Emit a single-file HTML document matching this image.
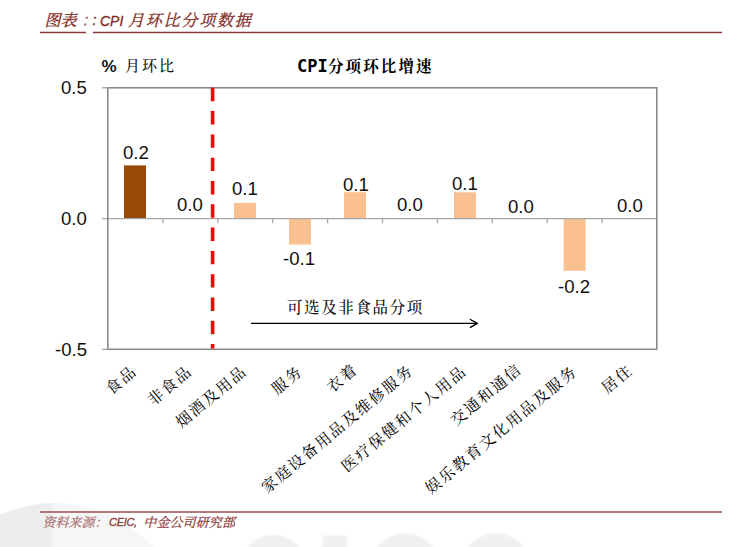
<!DOCTYPE html>
<html lang="zh-CN">
<head>
<meta charset="utf-8">
<title>CPI 月环比分项数据</title>
<style>
html,body{margin:0;padding:0;background:#fff;}
#c{position:relative;width:750px;height:547px;overflow:hidden;background:#fff;}
.t{position:absolute;white-space:nowrap;line-height:1;}
.num{font-family:"Liberation Sans","Noto Sans CJK SC",sans-serif;font-size:18.6px;color:#111;}
.cat{font-family:"Liberation Serif","Noto Serif CJK SC",serif;font-size:15.5px;font-weight:400;color:#000;letter-spacing:1.9px;transform-origin:100% 0;transform:rotate(-39.5deg);}
.hd{font-style:italic;color:#842a24;-webkit-text-stroke:0.3px #842a24;}
svg{position:absolute;left:0;top:0;}
</style>
</head>
<body>
<div id="c">
<svg width="750" height="547" viewBox="0 0 750 547">
  <!-- watermark -->
  <defs>
    <clipPath id="cl"><rect x="0" y="0" width="52.7" height="547"/></clipPath>
    <clipPath id="cr"><rect x="52.7" y="0" width="200" height="547"/></clipPath>
    <filter id="bl" x="-10%" y="-10%" width="120%" height="120%"><feGaussianBlur stdDeviation="1.2"/></filter>
  </defs>
  <circle cx="55" cy="635" r="132" fill="#ededed" clip-path="url(#cl)"/>
  <circle cx="55" cy="635" r="132" fill="#f6f6f6" clip-path="url(#cr)"/>
  <g fill="#f0f0f0" filter="url(#bl)">
    <ellipse cx="273.5" cy="570" rx="33.5" ry="35.3"/>
    <rect x="322.7" y="535.5" width="24" height="20"/>
    <ellipse cx="405.3" cy="568.6" rx="34.7" ry="35.3"/>
    <ellipse cx="496" cy="568.6" rx="34.8" ry="35.3"/>
  </g>
  <!-- header lines -->
  <line x1="40" y1="32.5" x2="86" y2="32.5" stroke="#8a3a3a" stroke-width="1.3"/>
  <line x1="93" y1="32.5" x2="722" y2="32.5" stroke="#8a3a3a" stroke-width="1.3"/>
  <!-- footer line -->
  <line x1="40" y1="512" x2="722" y2="512" stroke="#b07878" stroke-width="1.9"/>

  <!-- bars -->
  <rect x="124" y="165.4" width="22" height="53.2" fill="#984807"/>
  <rect x="234" y="202.9" width="22" height="15.7" fill="#fac090"/>
  <rect x="289" y="218.6" width="22" height="26" fill="#fac090"/>
  <rect x="344" y="192.2" width="22" height="26.4" fill="#fac090"/>
  <rect x="454" y="192.3" width="22" height="26.3" fill="#fac090"/>
  <rect x="563.6" y="218.6" width="22" height="52.2" fill="#fac090"/>

  <!-- zero line + category ticks -->
  <g stroke="#a6a6a6" stroke-width="1.3">
    <line x1="102" y1="218.6" x2="657" y2="218.6"/>
    <line x1="162.9" y1="218.6" x2="162.9" y2="223.3"/>
    <line x1="217.8" y1="218.6" x2="217.8" y2="223.3"/>
    <line x1="272.7" y1="218.6" x2="272.7" y2="223.3"/>
    <line x1="327.6" y1="218.6" x2="327.6" y2="223.3"/>
    <line x1="382.5" y1="218.6" x2="382.5" y2="223.3"/>
    <line x1="437.4" y1="218.6" x2="437.4" y2="223.3"/>
    <line x1="492.3" y1="218.6" x2="492.3" y2="223.3"/>
    <line x1="547.2" y1="218.6" x2="547.2" y2="223.3"/>
    <line x1="602.1" y1="218.6" x2="602.1" y2="223.3"/>
  </g>
  <!-- plot border -->
  <rect x="107.8" y="87.8" width="549" height="261.5" fill="none" stroke="#8a8a8a" stroke-width="1.6"/>
  <g stroke="#a0a0a0" stroke-width="1.3">
    <line x1="102" y1="87.8" x2="108" y2="87.8"/>
    <line x1="102" y1="349.3" x2="108" y2="349.3"/>
  </g>
  <!-- red dashed divider -->
  <line x1="212.6" y1="87.8" x2="212.6" y2="348.6" stroke="#ff0000" stroke-width="3.6" stroke-dasharray="13.4 9.9"/>

  <!-- arrow -->
  <line x1="251" y1="323.4" x2="477" y2="323.4" stroke="#000" stroke-width="1.4"/>
  <polyline points="470.4,319.5 477.4,323.4 470.4,327.3" fill="none" stroke="#000" stroke-width="1.4" stroke-linejoin="round" stroke-linecap="round"/>
</svg>

<!-- header -->
<div class="t hd" style="left:44.5px;top:12.8px;font-size:16px;font-family:'Liberation Serif','Noto Serif CJK SC',serif;">图表</div>
<div class="t hd" style="left:81px;top:12.5px;font-size:16.5px;font-family:'Liberation Serif','Noto Serif CJK SC',serif;opacity:.75;">：</div>
<div class="t hd" style="left:92.5px;top:13px;font-size:14px;font-family:'Liberation Sans',sans-serif;">:</div>
<div class="t hd" style="left:100px;top:14px;font-size:14px;font-family:'Liberation Sans',sans-serif;">CPI</div>
<div class="t hd" style="left:128px;top:12.5px;font-size:16px;font-family:'Liberation Serif','Noto Serif CJK SC',serif;letter-spacing:1.8px;">月环比分项数据</div>

<!-- axis title and chart title -->
<div class="t" style="left:101.5px;top:58px;font-size:17px;color:#111;font-family:'Liberation Sans',sans-serif;font-weight:bold;">%</div>
<div class="t" style="left:125px;top:58.5px;font-size:15px;color:#111;font-family:'Liberation Serif','Noto Serif CJK SC',serif;font-weight:500;letter-spacing:2px;">月环比</div>
<div class="t" style="left:297px;top:58px;font-size:17px;color:#000;font-weight:bold;font-family:'DejaVu Sans Mono',monospace;">CPI</div>
<div class="t" style="left:328px;top:58.5px;font-size:15.5px;color:#000;font-weight:bold;font-family:'Liberation Serif','Noto Serif CJK SC',serif;letter-spacing:2.1px;">分项环比增速</div>

<!-- y axis labels -->
<div class="t num" style="left:61px;top:79px;">0.5</div>
<div class="t num" style="left:61px;top:210px;">0.0</div>
<div class="t num" style="left:55px;top:341px;">-0.5</div>

<!-- data labels -->
<div class="t num" style="left:123px;top:143.5px;">0.2</div>
<div class="t num" style="left:177px;top:196px;">0.0</div>
<div class="t num" style="left:232px;top:180px;">0.1</div>
<div class="t num" style="left:283px;top:250px;">-0.1</div>
<div class="t num" style="left:343px;top:176px;">0.1</div>
<div class="t num" style="left:397px;top:196px;">0.0</div>
<div class="t num" style="left:452px;top:175px;">0.1</div>
<div class="t num" style="left:508px;top:198px;">0.0</div>
<div class="t num" style="left:558px;top:277.5px;">-0.2</div>
<div class="t num" style="left:617px;top:197px;">0.0</div>

<!-- arrow label -->
<div class="t" style="left:287px;top:299.5px;font-family:'Liberation Serif','Noto Serif CJK SC',serif;font-size:15.5px;font-weight:500;letter-spacing:1.6px;color:#111;">可选及非食品分项</div>

<!-- category labels (rotated) -->
<div class="t cat" style="right:619.8px;top:362.8px;">食品</div>
<div class="t cat" style="right:564.8px;top:362.7px;">非食品</div>
<div class="t cat" style="right:510.3px;top:362.8px;">烟酒及用品</div>
<div class="t cat" style="right:454.1px;top:363.1px;">服务</div>
<div class="t cat" style="right:399px;top:360.9px;">衣着</div>
<div class="t cat" style="right:343.7px;top:361.7px;">家庭设备用品及维修服务</div>
<div class="t cat" style="right:290px;top:362.8px;">医疗保健和个人用品</div>
<div class="t cat" style="right:235.4px;top:360.9px;">交通和通信</div>
<div class="t cat" style="right:180.1px;top:363.1px;">娱乐教育文化用品及服务</div>
<div class="t cat" style="right:124.1px;top:362.2px;">居住</div>

<!-- footer -->
<div class="t" style="left:42.5px;top:515.5px;font-size:13px;font-style:italic;font-family:'Liberation Serif','Noto Serif CJK SC',serif;color:#a86e6e;-webkit-text-stroke:0.2px #a86e6e;">资料来源：</div>
<div class="t" style="left:109px;top:517px;font-size:11px;font-style:italic;font-family:'Liberation Sans',sans-serif;color:#8e3838;letter-spacing:-0.3px;-webkit-text-stroke:0.3px #8e3838;">CEIC,</div>
<div class="t" style="left:143.3px;top:515.5px;font-size:13px;font-style:italic;font-family:'Liberation Serif','Noto Serif CJK SC',serif;color:#8e3838;letter-spacing:0.1px;-webkit-text-stroke:0.25px #8e3838;">中金公司研究部</div>
</div>
</body>
</html>
